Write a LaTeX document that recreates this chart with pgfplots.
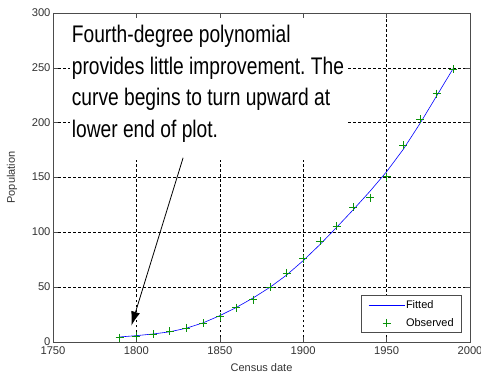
\documentclass[border=0pt]{standalone}
\usepackage{fontspec}
\setmainfont{Liberation Sans}
\newfontfamily\condfont{Liberation Sans}[FakeStretch=0.8]
\usepackage{pgfplots}
\pgfplotsset{compat=1.18}
\usetikzlibrary{arrows.meta}
\definecolor{mblue}{RGB}{0,0,255}
\definecolor{mgreen}{RGB}{10,145,10}
\pgfplotsset{
  fitleg/.style={legend image code/.code={\draw[mblue, line width=0.6pt] (0pt,0pt) -- (36pt,0pt);}},
  obsleg/.style={legend image code/.code={\draw[mgreen, line width=0.6pt] plot[mark=+, mark size=4pt, only marks] coordinates {(18pt,0pt)};}},
}
\frenchspacing
\begin{document}
\begin{tikzpicture}
\begin{axis}[
  name=ax,
  scale only axis,
  width=417pt, height=329pt,
  xmin=1750, xmax=2000, ymin=0, ymax=300,
  xtick={1750,1800,...,2000}, ytick={0,50,...,300},
  tick align=inside,
  major tick length=5pt,
  xticklabel style={/pgf/number format/1000 sep={}, yshift=-1.5pt},
  yticklabel style={xshift=1pt, yshift=0.5pt},
  /pgf/number format/assume math mode=true,
  tick label style={font=\fontsize{11.2}{11.2}\selectfont, text=black!80},
  label style={font=\fontsize{11}{11}\selectfont, text=black!80},
  xlabel={Census date}, ylabel={Population},
  xlabel style={at={(axis description cs:0.5,-0.079)}, anchor=center},
  ylabel style={at={(axis description cs:-0.0983,0.5)}, anchor=center},
  grid=major,
  major grid style={black, dash pattern=on 2.5pt off 2.5pt, line width=0.5pt},
  axis line style={black!70, line width=0.6pt},
  every tick/.style={black!70, line width=0.6pt},
  legend style={at={(1,0)}, xshift=-8pt, yshift=9pt, anchor=south east,
    font=\fontsize{11}{11}\selectfont, draw=black!70, line width=0.6pt,
    inner xsep=7pt, inner ysep=4pt, row sep=6pt,
    nodes={inner sep=1pt}},
  legend cell align=left,
]
\addplot[mblue, line width=0.6pt, fitleg] coordinates {
(1790,4.6) (1800,5.8) (1810,7.3) (1820,9.3) (1830,12.6) (1840,17.5)
(1850,24.0) (1860,31.6) (1870,40.2) (1880,49.8) (1890,61.0) (1900,74.2)
(1910,88.8) (1920,104.5) (1930,120.6) (1940,137.4) (1950,155.3)
(1960,175.7) (1970,199.2) (1980,224.4) (1990,249.6)
};
\addlegendentry{Fitted}
\addplot[only marks, mark=+, mark size=4pt, mgreen, line width=0.6pt, obsleg] coordinates {
(1790,3.929) (1800,5.308) (1810,7.240) (1820,9.638) (1830,12.866)
(1840,17.069) (1850,23.192) (1860,31.443) (1870,38.558) (1880,50.156)
(1890,62.948) (1900,75.995) (1910,91.972) (1920,105.711) (1930,122.775)
(1940,131.669) (1950,150.697) (1960,179.323) (1970,203.212)
(1980,226.505) (1990,248.709)
};
\addlegendentry{Observed}
\fill[white] (axis cs:1760,295) rectangle (axis cs:1926.4,165.6);
\node[anchor=base west, inner sep=0pt, font=\condfont\fontsize{24}{24}\selectfont] at (axis cs:1761.2,273.2) {Fourth-degree polynomial};
\node[anchor=base west, inner sep=0pt, font=\condfont\fontsize{24}{24}\selectfont] at (axis cs:1761.2,244.3) {provides little improvement. The};
\node[anchor=base west, inner sep=0pt, font=\condfont\fontsize{24}{24}\selectfont] at (axis cs:1761.2,215.4) {curve begins to turn upward at};
\node[anchor=base west, inner sep=0pt, font=\condfont\fontsize{24}{24}\selectfont] at (axis cs:1761.2,186.5) {lower end of plot.};
\draw[-{Latex[length=14pt,width=9pt]}, line width=0.8pt] (axis cs:1828,168) -- (axis cs:1797,15);
\end{axis}
\pgfresetboundingbox
\path ([xshift=-53pt,yshift=-35pt]ax.south west) rectangle ([xshift=11pt,yshift=13pt]ax.north east);
\end{tikzpicture}
\end{document}
